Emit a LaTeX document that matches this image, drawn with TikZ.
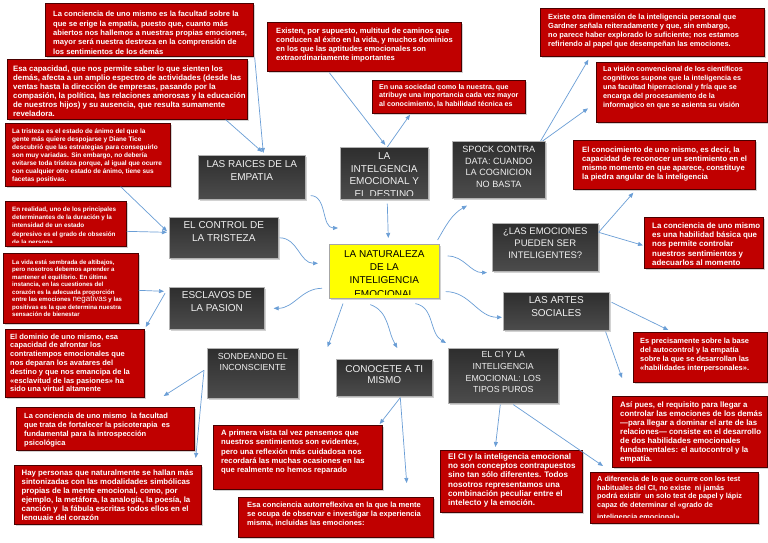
\documentclass[tikz,border=0pt]{standalone}
\usepackage{fontspec}
\setmainfont{Liberation Sans}
\usetikzlibrary{arrows.meta,calc,shadows}
\definecolor{rojo}{HTML}{C00000}
\definecolor{rojob}{HTML}{4A0000}
\definecolor{azul}{HTML}{6A9ED6}
\definecolor{oscA}{HTML}{2E2E2E}
\definecolor{oscB}{HTML}{4C4C4C}
\definecolor{amar}{HTML}{FFFF00}
\newcommand\caja[6]{%
  \pgfmathsetmacro\cajaw{#5-#3}%
  \pgfmathsetmacro\cajah{#6-#4}%
  \node[#1, minimum width=\cajaw pt, minimum height=\cajah pt, anchor=north west] (#2) at (#3,-#4) {};%
}
\newcommand\texto[7][1.5]{%
  \begin{scope}
    \clip ($(#2.north west)+(1,-1)$) rectangle ($(#2.south east)+(-1,#1)$);
    \node[#6] at ($(#2.#3)+(#4,-#5)$) {#7};
  \end{scope}%
}
\tikzset{
  sombra/.style={drop shadow={shadow xshift=1.2pt, shadow yshift=-1.2pt, opacity=0.35}},
  rbox/.style={draw=rojob, line width=0.7pt, fill=rojo, inner sep=0pt, sombra},
  dbox/.style={draw=gray!60, line width=0.6pt, top color=oscA, bottom color=oscB, inner sep=0pt, sombra},
  ybox/.style={draw=gray!70, line width=0.6pt, fill=amar, inner sep=0pt, sombra},
  rt/.style={text=white, align=left, inner sep=0pt, anchor=north west},
  dt/.style={text=gray!12, align=center, inner sep=0pt, anchor=north},
  conn/.style={draw=azul, line width=0.7pt, -{Triangle[length=5pt,width=4pt]}},
}
\begin{document}
\begin{tikzpicture}[x=1pt,y=1pt]
\useasboundingbox (0,0) rectangle (768,-543);
\fill[white] (0,0) rectangle (768,-543);

% ---------- red boxes ----------
\caja{rbox}{r1}{45}{3}{253}{56}
\texto{r1}{north west}{8}{8}{rt,font=\bfseries\fontsize{7.6}{9.4}\selectfont}{La conciencia de uno mismo es la facultad sobre la\\que se erige la empatía, puesto que, cuanto más\\abiertos nos hallemos a nuestras propias emociones,\\mayor será nuestra destreza en la comprensión de\\los sentimientos de los demás}

\caja{rbox}{r2}{7}{59}{247}{119}
\texto{r2}{north west}{6}{6.5}{rt,font=\bfseries\fontsize{7.8}{9}\selectfont}{Esa capacidad, que nos permite saber lo que sienten los\\demás, afecta a un amplio espectro de actividades (desde las\\ventas hasta la dirección de empresas, pasando por la\\compasión, la política, las relaciones amorosas y la educación\\de nuestros hijos) y su ausencia, que resulta sumamente\\reveladora.}

\caja{rbox}{r3}{5}{123}{170}{186}
\texto{r3}{north west}{7}{5.5}{rt,font=\bfseries\fontsize{6.5}{8}\selectfont}{La tristeza es el estado de ánimo del que la\\gente más quiere despojarse y Diane Tice\\descubrió que las estrategias para conseguirlo\\son muy variadas. Sin embargo, no debería\\evitarse toda tristeza porque, al igual que ocurre\\con cualquier otro estado de ánimo, tiene sus\\facetas positivas.}

\caja{rbox}{r4}{5}{201}{126}{246}
\texto[4]{r4}{north west}{7}{5.5}{rt,font=\bfseries\fontsize{6.3}{8.3}\selectfont}{En realidad, uno de los principales\\determinantes de la duración y la\\intensidad de un estado\\depresivo es el grado de obsesión\\de la persona}

\caja{rbox}{r5}{3}{253}{138}{323}
\texto{r5}{north west}{9}{6.5}{rt,font=\bfseries\fontsize{6.1}{7.5}\selectfont}{La vida está sembrada de altibajos,\\pero nosotros debemos aprender a\\mantener el equilibrio. En última\\instancia, en las cuestiones del\\corazón es la adecuada proporción\\entre las emociones {\mdseries\fontsize{8}{7.5}\selectfont negativas} y las\\positivas es la que determina nuestra\\sensación de bienestar}

\caja{rbox}{r6}{5}{329}{144}{397}
\texto{r6}{north west}{5}{4.5}{rt,font=\bfseries\fontsize{7.5}{8.8}\selectfont}{El dominio de uno mismo, esa\\capacidad de afrontar los\\contratiempos emocionales que\\nos deparan los avatares del\\destino y que nos emancipa de la\\«esclavitud de las pasiones» ha\\sido una virtud altamente}

\caja{rbox}{r7}{16}{407}{194}{450}
\texto{r7}{north west}{8}{5.5}{rt,font=\bfseries\fontsize{7.5}{9}\selectfont}{La conciencia de uno mismo\ \ la facultad\\que trata de fortalecer la psicoterapia\ \ es\\fundamental para la introspección\\psicológica}

\caja{rbox}{r8}{14}{465}{201}{524}
\texto[5.5]{r8}{north west}{7.5}{5}{rt,font=\bfseries\fontsize{7.8}{9}\selectfont}{Hay personas que naturalmente se hallan más\\sintonizadas con las modalidades simbólicas\\propias de la mente emocional, como, por\\ejemplo, la metáfora, la analogía, la poesía, la\\canción y\ \ la fábula escritas todos ellos en el\\lenguaje del corazón}

\caja{rbox}{r9}{267}{22}{461}{71}
\texto{r9}{north west}{9}{5.5}{rt,font=\bfseries\fontsize{7.6}{9.2}\selectfont}{Existen, por supuesto, multitud de caminos que\\conducen al éxito en la vida, y muchos dominios\\en los que las aptitudes emocionales son\\extraordinariamente importantes}

\caja{rbox}{r10}{372}{80}{525}{113}
\texto{r10}{north west}{7}{4}{rt,font=\bfseries\fontsize{7.1}{8.5}\selectfont}{En una sociedad como la nuestra, que\\atribuye una importancia cada vez mayor\\al conocimiento, la habilidad técnica es}

\caja{rbox}{r11}{540}{8}{764}{56}
\texto{r11}{north west}{8}{5.5}{rt,font=\bfseries\fontsize{7.45}{9.2}\selectfont}{Existe otra dimensión de la inteligencia personal que\\Gardner señala reiteradamente y que, sin embargo,\\no parece haber explorado lo suficiente; nos estamos\\refiriendo al papel que desempeñan las emociones.}

\caja{rbox}{r12}{596}{62}{767}{122}
\texto{r12}{north west}{7}{4}{rt,font=\bfseries\fontsize{7.2}{9}\selectfont}{La visión convencional de los científicos\\cognitivos supone que la inteligencia es\\una facultad hiperracional y fría que se\\encarga del procesamiento de la\\informagico en que se asienta su visión}

\caja{rbox}{r13}{573}{140}{755}{189}
\texto{r13}{north west}{9}{6.5}{rt,font=\bfseries\fontsize{7.7}{9.2}\selectfont}{El conocimiento de uno mismo, es decir, la\\capacidad de reconocer un sentimiento en el\\mismo momento en que aparece, constituye\\la piedra angular de la inteligencia}

\caja{rbox}{r14}{644}{217}{763}{268}
\texto{r14}{north west}{8}{5.5}{rt,font=\bfseries\fontsize{7.9}{9.2}\selectfont}{La conciencia de uno mismo\\es una habilidad básica que\\nos permite controlar\\nuestros sentimientos y\\adecuarlos al momento}

\caja{rbox}{r15}{633}{332}{767}{382}
\texto{r15}{north west}{7}{5.5}{rt,font=\bfseries\fontsize{7.45}{9}\selectfont}{Es precisamente sobre la base\\del autocontrol y la empatía\\sobre la que se desarrollan las\\«habilidades interpersonales».}

\caja{rbox}{r16}{612}{396}{767}{467}
\texto{r16}{north west}{8}{6}{rt,font=\bfseries\fontsize{7.85}{8.9}\selectfont}{Así pues, el requisito para llegar a\\controlar las emociones de los demás\\—para llegar a dominar el arte de las\\relaciones— consiste en el desarrollo\\de dos habilidades emocionales\\fundamentales: el autocontrol y la\\empatía.}

\caja{rbox}{r17}{590}{472}{758}{523}
\texto[6.5]{r17}{north west}{7}{4}{rt,font=\bfseries\fontsize{7.3}{8.7}\selectfont}{A diferencia de lo que ocurre con los test\\habituales del CI, no existe\ \ ni jamás\\podrá existir\ \ un solo test de papel y lápiz\\capaz de determinar el «grado de\\[3pt]inteligencia emocional»}

\caja{rbox}{r18}{440}{450}{582}{512}
\texto{r18}{north west}{8}{3.5}{rt,font=\bfseries\fontsize{8.1}{9.2}\selectfont}{El CI y la inteligencia emocional\\no son conceptos contrapuestos\\sino tan sólo diferentes. Todos\\nosotros representamos una\\combinación peculiar entre el\\intelecto y la emoción.}

\caja{rbox}{r19}{213}{425}{382}{489}
\texto{r19}{north west}{8}{5}{rt,font=\bfseries\fontsize{7.7}{9.2}\selectfont}{A primera vista tal vez pensemos que\\nuestros sentimientos son evidentes,\\pero una reflexión más cuidadosa nos\\recordará las muchas ocasiones en las\\que realmente no hemos reparado}

\caja{rbox}{r20}{238}{497}{433}{537}
\texto{r20}{north west}{9}{5}{rt,font=\bfseries\fontsize{7.55}{9}\selectfont}{Esa conciencia autorreflexiva en la que la mente\\se ocupa de observar e investigar la experiencia\\misma, incluidas las emociones:}

% ---------- dark boxes ----------
\caja{dbox}{raices}{198}{155}{305}{199}
\texto{raices}{north}{0}{5}{dt,font=\fontsize{10}{13.3}\selectfont}{LAS RAICES DE LA\\EMPATIA}
\caja{dbox}{destino}{340}{147}{428}{199}
\texto[4.5]{destino}{north}{0}{5.5}{dt,font=\fontsize{10}{12.5}\selectfont}{LA\\INTELGENCIA\\EMOCIONAL Y\\EL DESTINO}
\caja{dbox}{spock}{452}{141}{545}{198}
\texto{spock}{north}{0}{5}{dt,font=\fontsize{9.1}{11.6}\selectfont}{SPOCK CONTRA\\DATA: CUANDO\\LA COGNICION\\NO BASTA}
\caja{dbox}{control}{169}{217}{278}{258}
\texto{control}{north}{0}{4.5}{dt,font=\fontsize{10}{13}\selectfont}{EL CONTROL DE\\LA TRISTEZA}
\caja{dbox}{emociones}{492}{223}{598}{271}
\texto{emociones}{north}{0}{4.5}{dt,font=\fontsize{9.5}{12}\selectfont}{¿LAS EMOCIONES\\PUEDEN SER\\INTELIGENTES?}
\caja{dbox}{artes}{503}{292}{609}{330}
\texto{artes}{north}{0}{4.5}{dt,font=\fontsize{10}{12.7}\selectfont}{LAS ARTES\\SOCIALES}
\caja{dbox}{esclavos}{169}{287}{264}{329}
\texto{esclavos}{north}{0}{4.5}{dt,font=\fontsize{10}{13.3}\selectfont}{ESCLAVOS DE\\LA PASION}
\caja{dbox}{sondeando}{207}{348}{298}{398}
\texto{sondeando}{north}{0}{5}{dt,font=\fontsize{8.8}{10.7}\selectfont}{SONDEANDO EL\\INCONSCIENTE}
\caja{dbox}{conocete}{336}{359}{432}{396}
\texto{conocete}{north}{0}{6}{dt,font=\fontsize{10}{11.7}\selectfont}{CONOCETE A TI\\MISMO}
\caja{dbox}{ci}{448}{348}{558}{403}
\texto{ci}{north}{0}{3.5}{dt,font=\fontsize{8.8}{11.7}\selectfont}{EL CI Y LA\\INTELIGENCIA\\EMOCIONAL: LOS\\TIPOS PUROS}

% ---------- centre ----------
\caja{ybox}{centro}{329}{244}{439}{298}
\texto[4.5]{centro}{north}{0}{6}{dt,text=black,font=\fontsize{10}{13.4}\selectfont}{LA NATURALEZA\\DE LA\\INTELIGENCIA\\EMOCIONAL}

% ---------- curved connectors from/to centre ----------
\draw[conn] ($(raices.south east)+(5,4)$) to[out=0,in=180] ($(centro.north west)+(9,16)$);
\draw[conn] ($(destino.south)+(3,-4)$) -- ($(centro.north)+(4,6)$);
\draw[conn] ($(centro.north east)+(-2,4)$) to[out=60,in=210] ($(spock.south west)+(15,-7)$);
\draw[conn] ($(control.east)+(1,0)$) to[out=0,in=180] ($(centro.west)+(-11,8)$);
\draw[conn] ($(centro.north east)+(8,-12)$) to[out=0,in=180] ($(emociones.south west)+(-5,-1)$);
\draw[conn] ($(centro.west)+(-7,-17)$) to[out=180,in=0] ($(esclavos.east)+(9,0)$);
\draw[conn] ($(centro.south east)+(6,7)$) to[out=0,in=180] ($(artes.west)+(-1,-6)$);
\draw[conn] ($(centro.south west)+(14,-5)$) to[out=-110,in=70] ($(sondeando.north east)+(29,1)$);
\draw[conn] ($(centro.south)+(-14,-6)$) to[out=-20,in=120] ($(conocete.north)+(13,11)$);
\draw[conn] ($(centro.south)+(31,-5)$) to[out=-10,in=150] ($(ci.north west)+(-2,5)$);

% ---------- straight connectors ----------
\draw[conn] ($(r1.south east)+(1,-1)$) -- ($(raices.north)+(11.5,2)$);
\draw[conn] ($(r2.south east)+(-22,0)$) -- ($(raices.north)+(10.5,3)$);
\draw[conn] ($(r3.south east)+(-50,0)$) -- ($(control.west)+(-2,6.5)$);
\draw[conn] ($(r4.east)+(0,-7.5)$) -- ($(control.west)+(-2,5.5)$);
\draw[conn] ($(r5.east)+(0,-2)$) -- ($(esclavos.west)+(-5,17)$);
\draw[conn] ($(esclavos.west)+(-4,15)$) -- ($(r6.north east)+(1,2)$);
\draw[conn] ($(sondeando.west)+(-3,3)$) -- ($(r7.north east)+(-31,11)$);
\draw[conn] ($(sondeando.west)+(-3,3)$) -- ($(r8.north east)+(-6,7)$);
\draw[conn] ($(conocete.south)+(16,-1)$) -- ($(r19.north east)+(-3,1)$);
\draw[conn] ($(conocete.south)+(16,-1)$) -- ($(r20.north east)+(-27,14)$);
\draw[conn] ($(ci.south)+(-3,-1)$) -- ($(r18.north)+(-16,3)$);
\draw[conn] ($(ci.south)+(10,-1)$) -- ($(r17.north west)+(13,6)$);
\draw[conn] ($(artes.south east)+(-4,-1)$) -- ($(r16.north west)+(10,18)$);
\draw[conn] ($(artes.east)+(2,9)$) -- ($(r15.north)+(-32,2)$);
\draw[conn] ($(emociones.east)+(0,15)$) -- ($(r13.south)+(-31,-3)$);
\draw[conn] ($(emociones.east)+(0,15)$) -- ($(r14.west)+(-1,-2.5)$);
\draw[conn] ($(spock.north east)+(-5,0)$) -- ($(r11.south)+(-64,-3)$);
\draw[conn] ($(spock.north east)+(-3,0)$) -- ($(r12.west)+(-8,-16)$);
\draw[conn] ($(r9.south)+(-35,-1)$) -- ($(destino.north)+(1,2)$);
\draw[conn] ($(destino.north)+(3,0)$) -- ($(r10.south west)+(38,-1)$);
\end{tikzpicture}
\end{document}
